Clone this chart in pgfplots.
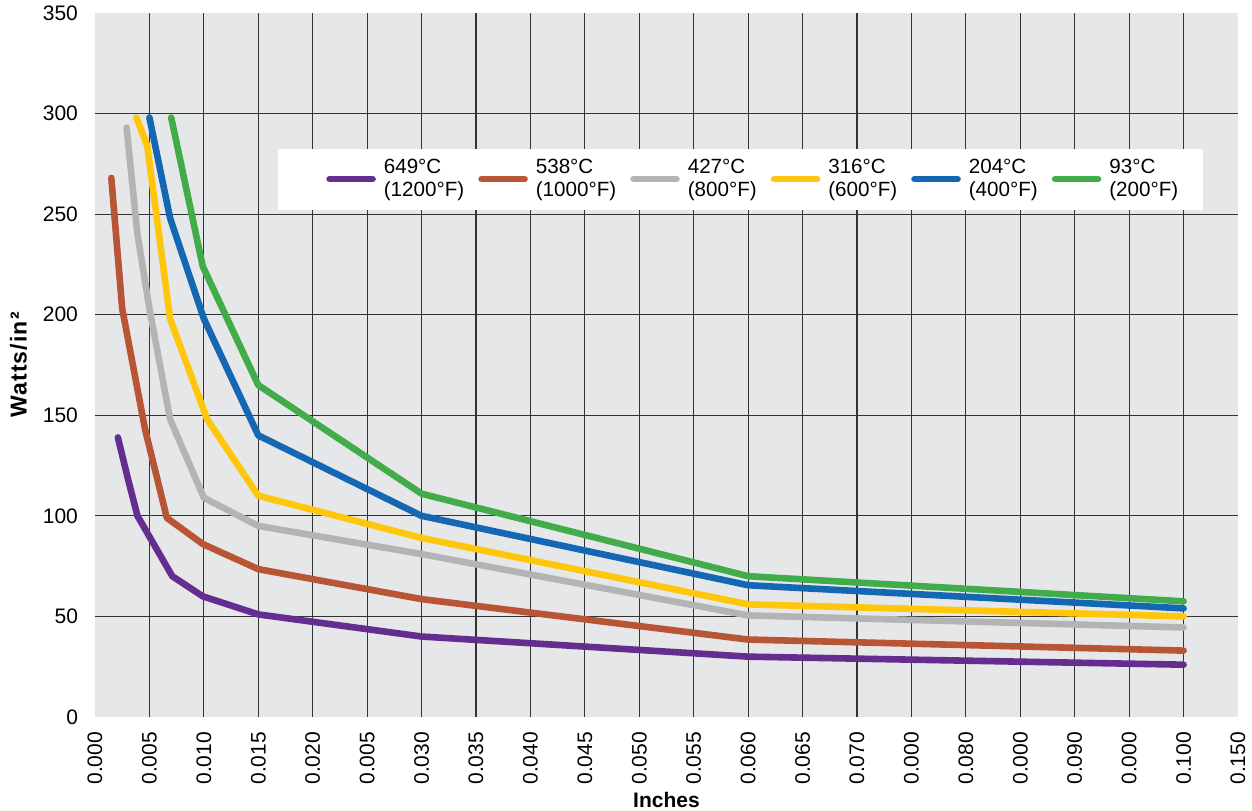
\documentclass[border=0pt]{standalone}
\usepackage{fontspec}
\setmainfont{Liberation Sans}
\usepackage{pgfplots}
\pgfplotsset{compat=1.18}
\definecolor{bgc}{HTML}{E6E7E8}
\definecolor{cpurple}{HTML}{662D91}
\definecolor{corange}{HTML}{B85535}
\definecolor{cgray}{HTML}{B3B4B6}
\definecolor{cyellow}{HTML}{FFC60B}
\definecolor{cblue}{HTML}{1467B3}
\definecolor{cgreen}{HTML}{43AC4A}
\pgfplotsset{firstimg/.style={legend image code/.code={\path (-15.5pt,0pt); \draw[##1, line cap=round] (0pt,0pt) -- (21.5pt,0pt);}}}
\begin{document}
\begin{tikzpicture}
\begin{axis}[
  name=ax, at={(0,0)}, anchor=south west,
  scale only axis, width=571.5pt, height=352pt,
  xmin=0, xmax=0.105, ymin=0, ymax=350,
  axis background/.style={fill=bgc},
  axis line style={draw=none},
  major tick length=0pt,
  /pgf/number format/assume math mode=true,
  xtick={0,0.005,0.010,0.015,0.020,0.025,0.030,0.035,0.040,0.045,0.050,0.055,0.060,0.065,0.070,0.075,0.080,0.085,0.090,0.095,0.100,0.105},
  xticklabels={0.000,0.005,0.010,0.015,0.020,0.005,0.030,0.035,0.040,0.045,0.050,0.055,0.060,0.065,0.070,0.000,0.080,0.000,0.090,0.000,0.100,0.150},
  xticklabel style={rotate=90, anchor=east, font=\fontsize{10.5}{12}\selectfont},
  xticklabel shift=4pt,
  ytick={0,50,100,150,200,250,300,350},
  yticklabels={0,50,100,150,200,250,300,350},
  yticklabel style={font=\fontsize{10.5}{12}\selectfont},
  yticklabel shift=5pt,
  extra x ticks={0.005,0.010,0.015,0.020,0.025,0.030,0.035,0.040,0.045,0.050,0.055,0.060,0.065,0.070,0.075,0.080,0.085,0.090,0.095,0.100},
  extra x tick labels={},
  extra y ticks={50,100,150,200,250,300},
  extra y tick labels={},
  extra tick style={grid=major, major grid style={draw=black!80, line width=0.55pt}},
  xlabel={Inches},
  xlabel style={at={(axis description cs:0.5,0)}, anchor=base, yshift=-45.5pt, font=\bfseries\fontsize{10.5}{12}\selectfont},
  ylabel={Watts/in²},
  ylabel style={at={(axis description cs:-0.067,0.5)}, anchor=center, font=\bfseries\fontsize{11.5}{13}\selectfont\addfontfeatures{LetterSpace=5}},
  legend columns=6,
  legend image code/.code={\draw[#1, line cap=round] (0pt,0pt) -- (21.5pt,0pt);},
  legend style={at={(axis description cs:0.16,0.808)}, anchor=north west, draw=none, fill=white,
    inner xsep=8.5pt, inner ysep=3.2pt, column sep=0pt,
    /tikz/every even column/.append style={column sep=3pt},
    nodes={inner xsep=4pt, inner ysep=2pt, align=left, font=\fontsize{10.3}{11.5}\selectfont}},
  legend cell align=left,
  every axis plot/.append style={line width=3.3pt, line cap=round, line join=round},
]
\addplot[cpurple, firstimg] coordinates {(0.0021,139) (0.003,119) (0.0039,100) (0.0071,70) (0.0099,60) (0.015,51) (0.030,40) (0.060,30) (0.100,26)};
\addlegendentry{649°C\\(1200°F)}
\addplot[corange] coordinates {(0.0015,268) (0.0025,203) (0.0046,143) (0.0066,99) (0.0099,86) (0.015,73.5) (0.030,58.6) (0.060,38.5) (0.100,33)};
\addlegendentry{538°C\\(1000°F)}
\addplot[cgray] coordinates {(0.0029,293) (0.0039,240) (0.005,203) (0.0069,148) (0.010,109) (0.015,95) (0.030,81) (0.060,50.5) (0.100,44.5)};
\addlegendentry{427°C\\(800°F)}
\addplot[cyellow] coordinates {(0.0038,298) (0.0048,284) (0.0069,198) (0.0103,148) (0.015,110) (0.030,89) (0.060,56) (0.100,50)};
\addlegendentry{316°C\\(600°F)}
\addplot[cblue] coordinates {(0.005,298) (0.0069,248) (0.010,198) (0.015,140) (0.030,100) (0.060,65.5) (0.100,54)};
\addlegendentry{204°C\\(400°F)}
\addplot[cgreen] coordinates {(0.007,298) (0.0099,224) (0.015,165) (0.030,111) (0.060,70) (0.100,57.5)};
\addlegendentry{93°C\\(200°F)}
\end{axis}
\pgfresetboundingbox
\path[use as bounding box] ([shift={(-47.5pt,-47pt)}]ax.south west) rectangle ([shift={(7pt,6.5pt)}]ax.north east);
\end{tikzpicture}
\end{document}
